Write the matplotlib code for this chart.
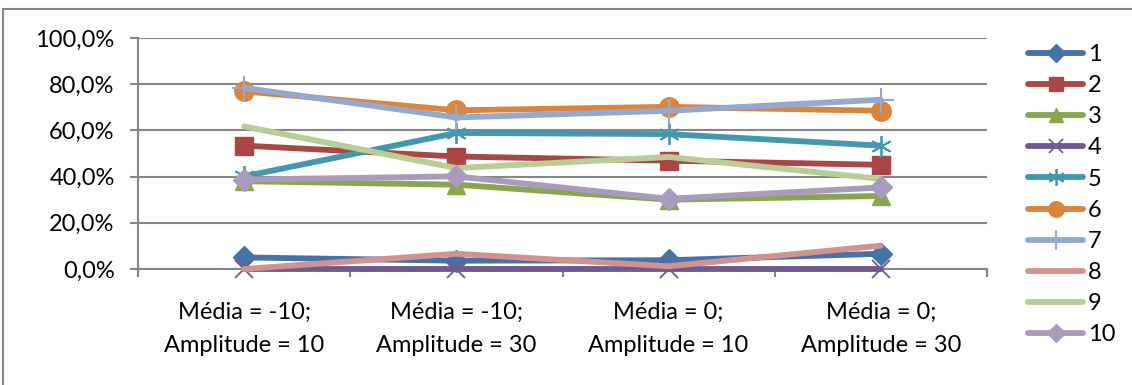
import matplotlib
matplotlib.use("Agg")
import matplotlib.pyplot as plt
from matplotlib.patches import Rectangle
from matplotlib.ticker import FuncFormatter, FixedLocator, NullFormatter

categories = ["Média = -10;\nAmplitude = 10", "Média = -10;\nAmplitude = 30",
              "Média = 0;\nAmplitude = 10", "Média = 0;\nAmplitude = 30"]
series_names = ["1", "2", "3", "4", "5", "6", "7", "8", "9", "10"]
s1 = [5.0, 3.6, 3.8, 6.6]
s2 = [53.4, 48.7, 46.9, 45.1]
s3 = [38.0, 36.5, 30.0, 31.6]
s4 = [0.0, 0.0, 0.0, 0.0]
s5 = [40.1, 58.9, 58.4, 53.4]
s6 = [76.9, 68.7, 70.2, 68.5]
s7 = [78.4, 65.6, 68.5, 73.3]
s8 = [0.0, 6.6, 1.2, 10.1]
s9 = [61.7, 43.7, 48.5, 39.0]
s10 = [38.7, 40.1, 30.4, 35.3]
values = [s1, s2, s3, s4, s5, s6, s7, s8, s9, s10]

colors = ["#4572A7", "#AA4643", "#89A54E", "#71588F", "#4198AF",
          "#DB843D", "#93A9CF", "#D19392", "#B9CD96", "#A99BBD"]
markers = ["D", "s", "^", "x", (6, 2, 0), "o", "+", None, None, "D"]
msizes = [11, 13, 13, 13, 15, 14, 18, 0, 0, 11]
mews = [1, 1, 1, 1.3, 1.3, 1, 1.5, 1, 1, 1]

plt.rcParams['font.family'] = ['Lato', 'DejaVu Sans']
W, H = 1132, 385
fig = plt.figure(figsize=(W / 100, H / 100), dpi=100)

# outer frame
fig.patches.append(Rectangle((3 / W, -0.05), 1.2, (H - 9) / H + 0.05,
                             transform=fig.transFigure, fill=False,
                             edgecolor="#868686", linewidth=1.5))

ax = fig.add_axes([138 / W, (H - 269) / H, 849 / W, 231 / H])
x = list(range(len(categories)))
handles = []
for i, vals in enumerate(values):
    (ln,) = ax.plot(x, vals, color=colors[i], linewidth=4.2,
                    marker=markers[i], markersize=msizes[i],
                    markeredgewidth=mews[i], markerfacecolor=colors[i],
                    markeredgecolor=colors[i], clip_on=False,
                    solid_capstyle="round", label=series_names[i], zorder=3 + i)
    handles.append(ln)

ax.set_xlim(-0.5, 3.5)
ax.set_ylim(0, 100)
ax.yaxis.set_major_locator(FixedLocator([0, 20, 40, 60, 80, 100]))
ax.yaxis.set_major_formatter(FuncFormatter(lambda v, p: f"{v:.1f}%".replace(".", ",")))
ax.grid(axis="y", color="#868686", linewidth=1.5, zorder=0)
ax.set_axisbelow(True)

ax.xaxis.set_major_locator(FixedLocator(x))
ax.set_xticklabels(categories, fontsize=17, linespacing=1.7)
ax.tick_params(axis="x", which="major", length=0, pad=24)
ax.xaxis.set_minor_locator(FixedLocator([-0.5, 0.5, 1.5, 2.5, 3.5]))
ax.xaxis.set_minor_formatter(NullFormatter())
ax.tick_params(axis="x", which="minor", length=5.8, width=1.5, color="#868686")
ax.tick_params(axis="y", length=5.8, width=1.5, color="#868686", labelsize=17, pad=11)

for side in ["top", "right"]:
    ax.spines[side].set_visible(False)
for side in ["left", "bottom"]:
    ax.spines[side].set_color("#868686")
    ax.spines[side].set_linewidth(1.5)

leg = fig.legend(handles=handles, loc="upper left",
                 bbox_to_anchor=(1028 / W, (H - 44) / H), frameon=False,
                 fontsize=17, handlelength=2.33, handletextpad=0.2,
                 labelspacing=0.43, borderaxespad=0, borderpad=0,
                 markerscale=0.8)

fig.savefig("out.png", dpi=100)
